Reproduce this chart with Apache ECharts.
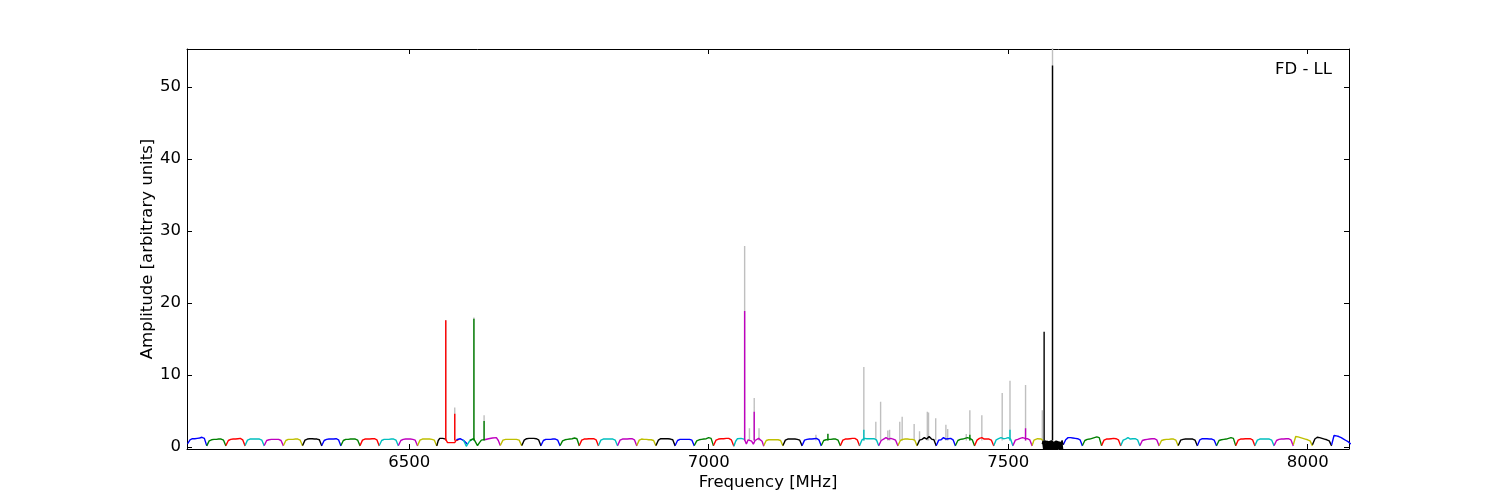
<!DOCTYPE html>
<html><head><meta charset="utf-8">
<script src="https://cdn.jsdelivr.net/npm/echarts@6/dist/echarts.min.js"></script>
<style>html,body{margin:0;padding:0;background:#fff}#chart{width:1500px;height:500px}</style>
</head><body><div id="chart"></div>
<script>
// ---------- data ----------
const xRange = [6129, 8069];
const yRange = [-0.28, 55.28];
const xTicks = [6500, 7000, 7500, 8000];
const yTicks = [0, 10, 20, 30, 40, 50];

// spectral windows: start / end frequency [MHz], colour key, amplitude samples (evenly spaced across the window)
const winStart = [6130,6162,6194,6226,6258,6290,6322,6354,6386,6418,6450,6482,6514,6546,6560,6579,6590,6601,6626,6652,
  6688,6720,6752,6784,6816,6848,6880,6912,6944,6976,7008,7042,7060,
  7092,7124,7156,7188,7220,7252,7284,7316,7348,7380,7412,7444,7476,7508,7540,
  7592,7624,7656,7688,7720,7752,7784,7816,7848,7880,7912,7944,7976,8008,8040];
const winEnd = [6162,6194,6226,6258,6290,6322,6354,6386,6418,6450,6482,6514,6546,6561,6582,6597,6606,6627,6652,6688,
  6720,6752,6784,6816,6848,6880,6912,6944,6976,7008,7042,7060,7092,
  7124,7156,7188,7220,7252,7284,7316,7348,7380,7412,7444,7476,7508,7540,7558,
  7624,7656,7688,7720,7752,7784,7816,7848,7880,7912,7944,7976,8008,8040,8072];
const winColorKey = ['b','g','r','c','m','y','k','b','g','r','c','m','y','k','r','b','c','g','m','y',
  'k','b','g','r','c','m','y','k','b','g','r','c','m',
  'y','k','b','g','r','c','m','y','k','b','g','r','c','m','y',
  'b','g','r','c','m','y','k','b','g','r','c','m','y','k','b'];
const winValues = [
  [0.45,1.0,1.15,1.15,1.2,1.25,1.35,1.2,0.15],
  [0.15,0.85,1.0,1.05,1.05,1.1,1.1,0.95,0.15],
  [0.2,0.9,1.05,1.1,1.1,1.15,1.2,1.0,0.15],
  [0.2,0.95,1.1,1.1,1.1,1.1,1.1,0.95,0.15],
  [0.2,0.9,1.0,1.05,1.05,1.05,1.05,0.9,0.15],
  [0.2,0.9,1.05,1.05,1.05,1.1,1.1,0.95,0.15],
  [0.2,0.95,1.1,1.15,1.15,1.1,1.1,1.0,0.15],
  [0.2,0.9,1.05,1.1,1.1,1.1,1.15,1.0,0.15],
  [0.2,0.9,1.05,1.05,1.1,1.1,1.1,0.95,0.15],
  [0.2,0.95,1.1,1.1,1.1,1.15,1.15,1.0,0.15],
  [0.2,0.9,1.05,1.05,1.05,1.1,1.1,0.95,0.15],
  [0.2,0.9,1.05,1.1,1.1,1.1,1.05,0.95,0.15],
  [0.2,0.95,1.1,1.1,1.1,1.1,1.05,0.95,0.15],
  [0.15,0.9,1.2,1.25,1.2,1.15,1.1],
  [1.2,0.9,0.6,0.35,0.6,0.85,0.6,0.35,0.6,0.9,1.1,1.0],
  [1.0,1.2,1.15,1.05,0.9,0.7,0.4],
  [1.0,0.6,0.1,0.3,0.8,1.0,1.1],
  [0.9,1.1,1.15,0.9,0.2,0.6,0.95,1.0,1.05],
  [1.0,1.1,1.15,1.2,1.25,1.3,1.3,0.9,0.2],
  [0.2,0.95,1.05,1.05,1.05,1.05,1.05,0.95,0.15],
  [0.2,0.95,1.15,1.2,1.2,1.2,1.15,1.0,0.15],
  [0.2,0.9,1.05,1.05,1.05,1.1,1.1,0.95,0.15],
  [0.2,0.85,1.0,1.05,1.1,1.15,1.25,1.15,0.15],
  [0.2,0.95,1.1,1.1,1.15,1.15,1.15,1.0,0.15],
  [0.2,0.95,1.1,1.1,1.1,1.1,1.1,0.95,0.15],
  [0.2,0.95,1.1,1.1,1.1,1.15,1.15,1.0,0.15],
  [0.2,0.95,1.1,1.05,1.05,1.0,1.0,0.9,0.15],
  [0.2,0.95,1.15,1.15,1.15,1.15,1.1,1.0,0.15],
  [0.2,0.9,1.05,1.05,1.05,1.05,1.05,0.95,0.15],
  [0.2,0.85,1.0,1.05,1.1,1.15,1.3,1.2,0.15],
  [0.2,0.95,1.1,1.15,1.15,1.2,1.2,1.0,0.1],
  [0.1,0.8,1.15,1.2,1.2,1.15,1.05],
  [1.0,0.4,1.0,1.2,0.8,0.4,0.9,0.7,1.2,1.0,0.8,0.1],
  [0.2,0.9,1.0,1.0,1.0,1.0,1.0,0.9,0.15],
  [0.2,0.95,1.1,1.1,1.1,1.1,1.05,0.95,0.15],
  [0.2,0.95,1.05,1.1,1.1,1.15,1.2,1.0,0.15],
  [0.2,0.9,1.0,1.05,1.05,1.1,1.1,0.95,0.15],
  [0.2,0.95,1.1,1.1,1.15,1.2,1.2,1.0,0.15],
  [0.2,1.0,1.2,1.15,1.15,1.15,1.15,1.0,0.15],
  [0.2,0.9,1.1,1.3,1.1,1.2,1.1,0.95,0.15],
  [0.2,0.9,1.05,1.1,1.1,1.05,1.05,0.95,0.15],
  [0.2,0.95,1.05,1.3,1.1,1.45,1.1,1.0,0.15],
  [0.2,0.95,1.0,1.3,1.1,1.15,1.2,1.0,0.15],
  [0.2,0.9,1.05,1.1,1.2,1.3,1.2,1.0,0.15],
  [0.2,0.95,1.2,1.3,1.1,1.1,1.1,0.95,0.15],
  [0.2,1.0,1.15,1.3,1.15,1.2,1.3,1.1,0.15],
  [0.2,0.95,1.05,1.2,1.3,1.2,1.15,1.0,0.15],
  [0.2,0.95,1.1,1.15,1.15,1.1,0.9],
  [0.3,1.0,1.3,1.3,1.25,1.2,1.15,1.0,0.15],
  [0.2,0.9,1.05,1.1,1.2,1.3,1.4,1.3,0.15],
  [0.2,0.95,1.1,1.1,1.15,1.2,1.15,1.0,0.15],
  [0.2,0.95,1.1,1.3,1.1,1.15,1.15,1.0,0.15],
  [0.2,0.9,1.0,1.05,1.1,1.15,1.15,1.0,0.15],
  [0.2,0.9,1.0,1.05,1.05,1.1,1.1,0.95,0.15],
  [0.2,0.95,1.05,1.1,1.1,1.1,1.1,0.95,0.15],
  [0.2,1.0,1.15,1.15,1.15,1.1,1.1,0.95,0.15],
  [0.2,0.9,1.0,1.05,1.1,1.2,1.3,1.2,0.15],
  [0.2,0.95,1.1,1.1,1.15,1.15,1.15,1.0,0.15],
  [0.2,0.95,1.1,1.1,1.1,1.1,1.1,0.95,0.15],
  [0.2,0.9,1.05,1.1,1.1,1.15,1.15,1.0,0.15],
  [0.3,1.45,1.4,1.3,1.2,1.1,1.0,0.85,0.15],
  [0.3,1.1,1.35,1.3,1.2,1.1,1.0,0.85,0.15],
  [0.3,1.6,1.55,1.45,1.3,1.1,0.9,0.7,0.4]
];

// densely flagged black window (7558-7592 MHz): top envelope of the filled trace
const denseStart = 7557, denseEnd = 7592;
const denseTop = [0.4,0.8,0.6,0.9,0.7,0.85,0.5,0.8,0.9,0.6,0.8,0.7,0.9,0.75,0.6,0.85,0.9,0.7,0.8,0.6,
  0.85,0.9,0.7,0.8,0.65,0.9,0.8,0.7,0.85,0.9,0.75,0.8,0.6,0.9,0.5,0.3];

// narrow spikes in the flagged (colour) data
const spikeFreq = [6561,6576,6608,6625,7060,7076,7199,7259,7436,7503,7529,7560,7574];
const spikePeak = [17.6,4.6,17.8,3.6,18.9,4.9,1.8,2.4,1.7,2.4,2.6,16.0,53.0];
const spikeColorKey = ['r','r','g','g','m','m','g','c','g','c','m','k','k'];

// spikes in the raw (grey) data
const graySpikeFreq = [6561,6576,6608,6625,7060,7068,7076,7084,7179,7199,7259,7279,7287,7299,7302,7319,7323,7343,7352,7365,7367,7379,7396,7399,7430,7436,7456,7490,7503,7529,7557,7574];
const graySpikePeak = [17.6,5.5,18.0,4.4,27.9,2.6,6.8,2.6,1.7,1.9,11.1,3.5,6.3,2.3,2.4,3.5,4.2,3.2,2.2,4.9,4.8,4.0,3.1,2.5,1.8,5.1,4.4,7.5,9.2,8.6,5.1,56];
const spikeBase = 0.9;

const panelLabel = 'FD - LL';
const xName = 'Frequency [MHz]';
const yName = 'Amplitude [arbitrary units]';

// ---------- styles ----------
const palette = {b:'#0000ff', g:'#008000', r:'#ff0000', c:'#00bfbf', m:'#bf00bf', y:'#bfbf00', k:'#000000'};
const grayColor = '#bfbfbf';
const FONT = 'DejaVu Sans';
const FS = 16.5;

// ---------- build series ----------
const series = [];
const grayData = [];
graySpikeFreq.forEach((f, i) => { grayData.push([f, spikeBase], [f, graySpikePeak[i]], [f, null]); });
series.push({type:'line', data: grayData, showSymbol:false, symbol:'none', connectNulls:false,
  lineStyle:{color:grayColor, width:1.4}, itemStyle:{color:grayColor}, animation:false, silent:true, z:2});

winStart.forEach((s, i) => {
  const e = winEnd[i], vals = winValues[i], n = vals.length;
  const data = vals.map((v, j) => [s + j * (e - s) / (n - 1), v]);
  const col = palette[winColorKey[i]];
  series.push({type:'line', data, showSymbol:false, symbol:'none',
    lineStyle:{color:col, width:1.4}, itemStyle:{color:col}, animation:false, silent:true, z:3});
});

{
  const n = denseTop.length;
  const data = denseTop.map((v, j) => [denseStart + j * (denseEnd - denseStart) / (n - 1), v]);
  series.push({type:'line', data, showSymbol:false, symbol:'none',
    lineStyle:{color:palette.k, width:1.4}, itemStyle:{color:palette.k},
    areaStyle:{color:palette.k, opacity:1, origin:'start'}, animation:false, silent:true, z:3});
}

spikeFreq.forEach((f, i) => {
  const col = palette[spikeColorKey[i]];
  series.push({type:'line', data:[[f, spikeBase],[f, spikePeak[i]]], showSymbol:false, symbol:'none',
    lineStyle:{color:col, width:1.4}, itemStyle:{color:col}, animation:false, silent:true, z:4});
});

const axisLineStyle = {show:true, onZero:false, lineStyle:{color:'#000', width:1}};
const tickStyle = (vals) => ({show:true, inside:true, length:5, customValues:vals, lineStyle:{color:'#000', width:1}});
const labelStyle = (vals, margin) => ({color:'#000', fontFamily:FONT, fontSize:FS, margin, customValues:vals, formatter:(v) => String(v)});
const nameStyle = {color:'#000', fontFamily:FONT, fontSize:FS};

const option = {
  backgroundColor:'#fff',
  animation:false,
  grid:{left:187, right:151, top:49, bottom:51, containLabel:false},
  xAxis:[
    {type:'value', position:'bottom', min:xRange[0], max:xRange[1], axisLine:axisLineStyle, axisTick:tickStyle(xTicks),
     axisLabel:labelStyle(xTicks, 5), splitLine:{show:false},
     name:xName, nameLocation:'middle', nameGap:25, nameMoveOverlap:false, nameTextStyle:nameStyle},
    {type:'value', position:'top', min:xRange[0], max:xRange[1], axisLine:axisLineStyle, axisTick:tickStyle(xTicks),
     axisLabel:{show:false}, splitLine:{show:false}}
  ],
  yAxis:[
    {type:'value', position:'left', min:yRange[0], max:yRange[1], axisLine:axisLineStyle, axisTick:tickStyle(yTicks),
     axisLabel:labelStyle(yTicks, 6), splitLine:{show:false},
     name:yName, nameLocation:'middle', nameGap:31, nameMoveOverlap:false, nameTextStyle:nameStyle},
    {type:'value', position:'right', min:yRange[0], max:yRange[1], axisLine:axisLineStyle, axisTick:tickStyle(yTicks),
     axisLabel:{show:false}, splitLine:{show:false}}
  ],
  graphic:[{type:'text', right:168, top:61, style:{text:panelLabel, fill:'#000', font:FS + 'px "' + FONT + '"'}}],
  series
};

const chart = echarts.init(document.getElementById('chart'), null, {renderer:'canvas'});
chart.setOption(option);
</script>
</body></html>
